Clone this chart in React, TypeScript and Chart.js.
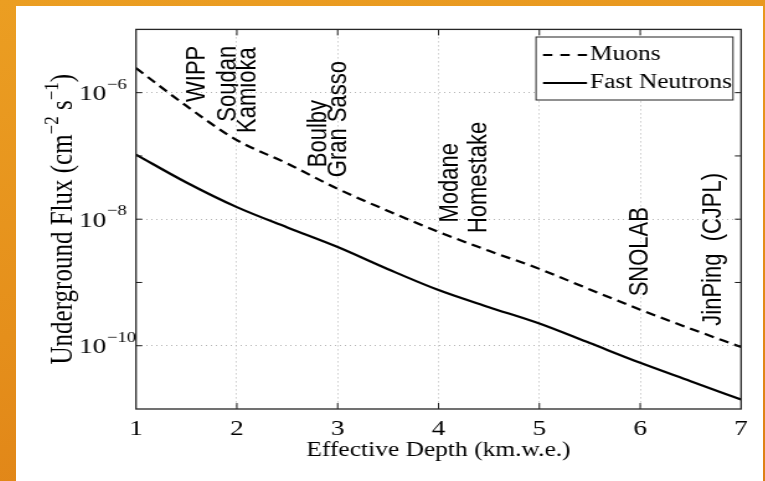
import React, { useEffect, useRef } from "react";
import { Chart, registerables } from "chart.js";

Chart.register(...registerables);

const SERIF = "'Liberation Serif', 'Times New Roman', serif";
const SANS = "'Liberation Sans', Arial, sans-serif";

// ---- data ----
const depths = [1, 1.5, 2, 2.5, 3, 3.5, 4, 4.5, 5, 5.5, 6, 6.5, 7];
const muonFlux = [
  2.45e-6, 6.17e-7, 1.78e-7, 7.59e-8, 3.02e-8, 1.35e-8, 6.31e-9, 3.16e-9, 1.64e-9,
  7.76e-10, 3.72e-10, 1.86e-10, 9.55e-11,
];
const neutronFlux = [
  1.05e-7, 3.8e-8, 1.55e-8, 7.41e-9, 3.63e-9, 1.62e-9, 7.59e-10, 4.07e-10, 2.24e-10,
  1.1e-10, 5.37e-11, 2.75e-11, 1.41e-11,
];
const seriesNames = ["Muons", "Fast Neutrons"];

const xMin = 1;
const xMax = 7;
const xTickValues = [1, 2, 3, 4, 5, 6, 7];
const xTitle = "Effective Depth (km.w.e.)";

const yMin = 1e-11;
const yMax = 1e-5;
const yLabelValues = [1e-6, 1e-8, 1e-10];
const yLabelExponents = ["\u22126", "\u22128", "\u221210"];
const yMarkValues = [1e-10, 1e-9, 1e-8, 1e-7, 1e-6];
const yTitleParts: [string, boolean][] = [
  ["Underground Flux (cm", false],
  ["\u22122", true],
  [" s", false],
  ["\u22121", true],
  [")", false],
];

const siteNames = [
  "WIPP",
  "Soudan",
  "Kamioka",
  "Boulby",
  "Gran Sasso",
  "Modane",
  "Homestake",
  "SNOLAB",
  "JinPing  (CJPL)",
];
const siteDepths = [1.685, 1.982, 2.19, 2.885, 3.083, 4.194, 4.472, 6.079, 6.804];
const siteFluxes = [7.13e-7, 3.48e-7, 2.31e-7, 6.64e-8, 4.61e-8, 8.83e-9, 6.03e-9, 6.03e-10, 2.07e-10];

// ---- layout ----
const CANVAS_W = 602;
const CANVAS_H = 475;
const PANEL_W = 747;
const STRETCH = PANEL_W / CANVAS_W;

export default function App() {
  const ref = useRef<HTMLCanvasElement>(null);

  useEffect(() => {
    const canvas = ref.current;
    if (!canvas) return;

    const overlay = {
      id: "overlay",
      afterDraw(chart: any) {
        const ctx: CanvasRenderingContext2D = chart.ctx;
        const xs = chart.scales.x;
        const ys = chart.scales.y;
        const { left, right, top, bottom } = chart.chartArea;
        ctx.save();
        ctx.setLineDash([]);

        // inward tick marks on all four sides
        ctx.strokeStyle = "#1a1a1a";
        ctx.lineWidth = 1;
        ctx.beginPath();
        xTickValues.forEach((v) => {
          if (v === xMin || v === xMax) return;
          const px = xs.getPixelForValue(v);
          ctx.moveTo(px, bottom);
          ctx.lineTo(px, bottom - 6);
          ctx.moveTo(px, top);
          ctx.lineTo(px, top + 6);
        });
        yMarkValues.forEach((v) => {
          const py = ys.getPixelForValue(v);
          ctx.moveTo(left, py);
          ctx.lineTo(left + 5, py);
          ctx.moveTo(right, py);
          ctx.lineTo(right - 5, py);
        });
        ctx.stroke();

        // frame
        ctx.lineWidth = 1.3;
        ctx.strokeStyle = "#262626";
        ctx.strokeRect(left, top, right - left, bottom - top);

        // y tick labels 10^n
        ctx.fillStyle = "#000";
        ctx.textAlign = "left";
        ctx.textBaseline = "alphabetic";
        yLabelValues.forEach((v, i) => {
          const py = ys.getPixelForValue(v);
          const bx = left - 46;
          ctx.font = `22px ${SERIF}`;
          ctx.fillText("10", bx, py + 7.5);
          const w = ctx.measureText("10").width;
          ctx.font = `15px ${SERIF}`;
          ctx.fillText(yLabelExponents[i], bx + w + 0.5, py - 4);
        });

        // y axis title (rotated, with superscripts)
        const mainFont = `25px ${SERIF}`;
        const supFont = `17px ${SERIF}`;
        let total = 0;
        yTitleParts.forEach(([t, sup]) => {
          ctx.font = sup ? supFont : mainFont;
          total += ctx.measureText(t).width;
        });
        ctx.save();
        ctx.translate(left - 51.8, (top + bottom) / 2);
        ctx.rotate(-Math.PI / 2);
        let cx = -total / 2;
        yTitleParts.forEach(([t, sup]) => {
          ctx.font = sup ? supFont : mainFont;
          ctx.fillText(t, cx, sup ? -11 : 0);
          cx += ctx.measureText(t).width;
        });
        ctx.restore();

        // site labels (rotated)
        ctx.font = `22px ${SANS}`;
        siteNames.forEach((name, i) => {
          const px = xs.getPixelForValue(siteDepths[i]);
          const py = ys.getPixelForValue(siteFluxes[i]);
          ctx.save();
          ctx.translate(px, py);
          ctx.rotate(-Math.PI / 2);
          ctx.fillText(name, 0, 0);
          ctx.restore();
        });

        // legend
        const boxR = right - 6.5;
        const boxL = boxR - 158.7;
        const boxT = top + 7.6;
        const boxH = 63;
        ctx.fillStyle = "#fff";
        ctx.fillRect(boxL, boxT, boxR - boxL, boxH);
        ctx.strokeStyle = "#222";
        ctx.lineWidth = 1;
        ctx.strokeRect(boxL, boxT, boxR - boxL, boxH);
        const rows = [boxT + 18, boxT + 46];
        const dashes = [[7.5, 6.5], []];
        ctx.font = `20.5px ${SERIF}`;
        ctx.textBaseline = "middle";
        seriesNames.forEach((name, i) => {
          ctx.strokeStyle = "#000";
          ctx.lineWidth = 2.2;
          ctx.setLineDash(dashes[i]);
          ctx.beginPath();
          ctx.moveTo(boxL + 5.6, rows[i]);
          ctx.lineTo(boxL + 41.1, rows[i]);
          ctx.stroke();
          ctx.setLineDash([]);
          ctx.fillStyle = "#000";
          ctx.fillText(name, boxL + 43.5, rows[i]);
        });

        ctx.restore();
      },
    };

    const gridColor = "#b4b4b4";

    const chart = new Chart(canvas, {
      type: "line",
      data: {
        datasets: [
          {
            label: seriesNames[0],
            data: depths.map((d, i) => ({ x: d, y: muonFlux[i] })),
            borderColor: "#000",
            borderWidth: 2.2,
            borderDash: [8, 5],
            pointRadius: 0,
            fill: false,
            cubicInterpolationMode: "monotone",
          },
          {
            label: seriesNames[1],
            data: depths.map((d, i) => ({ x: d, y: neutronFlux[i] })),
            borderColor: "#000",
            borderWidth: 2.2,
            pointRadius: 0,
            fill: false,
            cubicInterpolationMode: "monotone",
          },
        ],
      },
      options: {
        responsive: false,
        animation: false,
        devicePixelRatio: 1,
        events: [],
        layout: { padding: { left: 0, top: 23.4, right: 17.7, bottom: 0 } },
        plugins: {
          legend: { display: false },
          tooltip: { enabled: false },
          title: { display: false },
        },
        scales: {
          x: {
            type: "linear",
            min: xMin,
            max: xMax,
            afterFit(s: any) {
              s.height = 72;
            },
            afterBuildTicks(s: any) {
              s.ticks = xTickValues.map((v) => ({ value: v }));
            },
            ticks: {
              font: { family: SERIF, size: 22 },
              color: "#000",
              padding: 7.3,
              maxRotation: 0,
              autoSkip: false,
              callback: (v: any) => String(v),
            },
            grid: {
              drawTicks: false,
              lineWidth: 1,
              color: (c: any) =>
                c.tick && (c.tick.value === xMin || c.tick.value === xMax)
                  ? "rgba(0,0,0,0)"
                  : gridColor,
            },
            border: { display: false, dash: [1, 3] },
            title: {
              display: true,
              text: xTitle,
              color: "#000",
              font: { family: SERIF, size: 20.5 },
              padding: { top: 0, bottom: 18.5 },
            },
          },
          y: {
            type: "logarithmic",
            min: yMin,
            max: yMax,
            afterFit(s: any) {
              s.width = 96.7;
            },
            afterBuildTicks(s: any) {
              s.ticks = yLabelValues.map((v) => ({ value: v }));
            },
            ticks: { display: false },
            grid: { drawTicks: false, lineWidth: 1, color: gridColor },
            border: { display: false, dash: [1, 3] },
          },
        },
      },
      plugins: [overlay],
    } as any);

    return () => chart.destroy();
  }, []);

  return (
    <>
      <div
        style={{
          position: "fixed",
          inset: 0,
          background: "linear-gradient(170deg, #eb9e22 0%, #e58f1b 55%, #de8016 100%)",
        }}
      />
      <div
        style={{
          position: "fixed",
          left: 16,
          top: 6,
          width: PANEL_W,
          height: CANVAS_H,
          background: "#fff",
          overflow: "hidden",
        }}
      >
        <div
          style={{
            width: CANVAS_W,
            height: CANVAS_H,
            transform: `scaleX(${STRETCH})`,
            transformOrigin: "0 0",
          }}
        >
          <canvas ref={ref} width={CANVAS_W} height={CANVAS_H} style={{ display: "block" }} />
        </div>
      </div>
    </>
  );
}
